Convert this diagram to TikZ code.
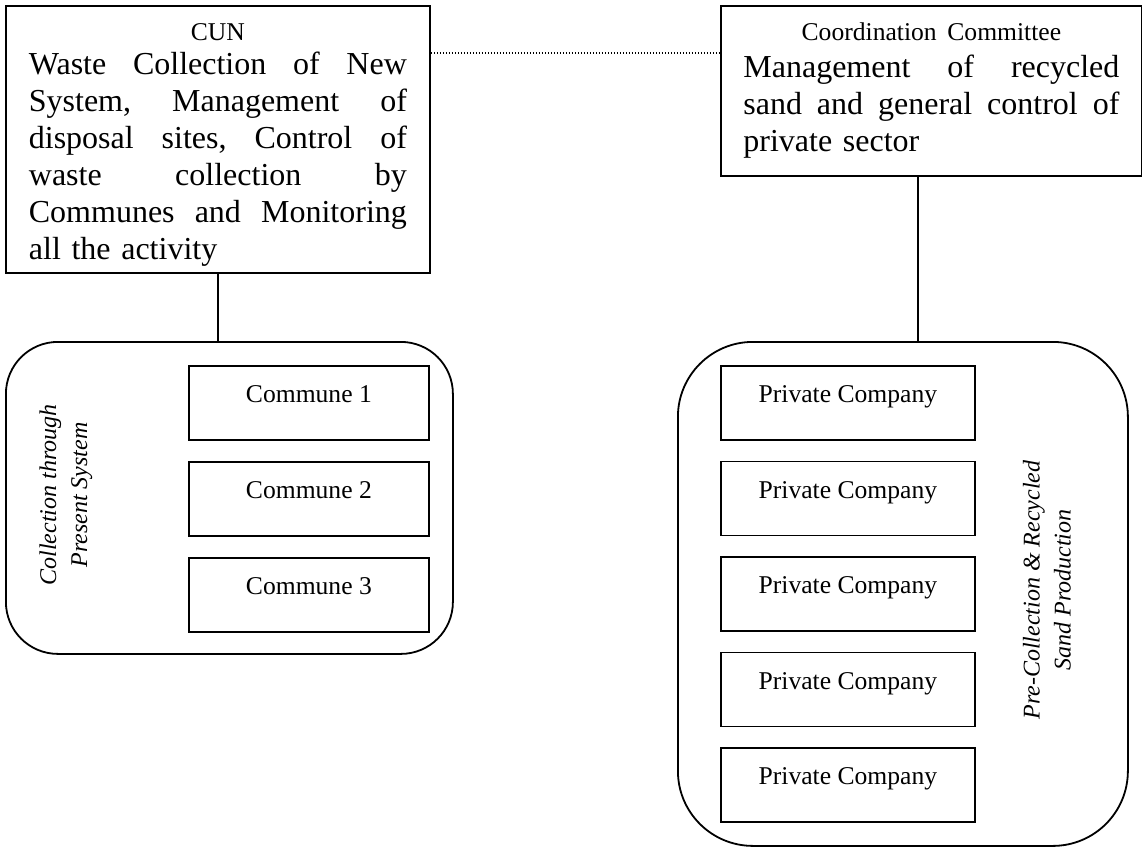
\documentclass[tikz,border=0pt]{standalone}
\usepackage{fontspec}
\setmainfont{Liberation Serif}
\usetikzlibrary{positioning}
\tikzset{
  topbox/.style={rectangle, draw, line width=0.9pt, anchor=north west,
                 align=left, font=\fontsize{16}{18.5}\selectfont},
  unitbox/.style={rectangle, draw, line width=0.9pt, minimum width=120pt,
                  text height=18.5pt, text depth=18.5pt, inner ysep=0pt,
                  font=\fontsize{12.8}{15}\selectfont},
  group/.style={rectangle, draw, line width=0.9pt, anchor=north west},
  sidelabel/.style={rotate=90, align=center, font=\fontsize{12}{15.5}\selectfont\itshape},
  link/.style={line width=0.9pt},
  dotlink/.style={line width=0.6pt, dash pattern=on 0.6pt off 0.9pt},
}
\newcommand{\fillline}[2][189pt]{\leavevmode\hbox to #1{#2}}
\newcommand{\lastline}[2][189pt]{\leavevmode\hbox to #1{#2\hfil}}
\newcommand{\headline}[2][189pt]{\leavevmode\hbox to #1{\hfil\fontsize{12.8}{15}\selectfont #2\hfil}}

\begin{document}
\begin{tikzpicture}[x=0.5pt, y=-0.5pt, node distance=10.1pt]
  \useasboundingbox (0,0) rectangle (1142,847);
  \node[topbox, text width=189pt, minimum width=212pt, minimum height=133.5pt] (cun) at (5,5)
    {\headline{\rule{0pt}{14pt}CUN}\\[-1.75pt]
     \fillline{Waste\hfill Collection\hfill of\hfill New}\\
     \fillline{System,\hfill Management\hfill of}\\
     \fillline{disposal\hfill sites,\hfill Control\hfill of}\\
     \fillline{waste\hfill collection\hfill by}\\
     \fillline{Communes\hfill and\hfill Monitoring}\\
     \lastline{all the activity}};
  \node[topbox, text width=188pt, minimum width=210.5pt, minimum height=85pt] (cc) at (720,5)
    {\headline[188pt]{Coordination Committee}\\
     \fillline[188pt]{Management\hfill of\hfill recycled}\\
     \fillline[188pt]{sand\hfill and\hfill general\hfill control\hfill of}\\
     \lastline[188pt]{private sector}};
  \node[group, minimum width=223.5pt, minimum height=156pt, rounded corners=26pt] (present) at (5,341) {};
  \node[group, minimum width=225pt, minimum height=252pt, rounded corners=37.5pt] (private) at (677,341) {};
  \node[unitbox, anchor=north west] (c1) at (188,365) {Commune 1};
  \node[unitbox, below=of c1] (c2) {Commune 2};
  \node[unitbox, below=of c2] (c3) {Commune 3};
  \node[unitbox, minimum width=127pt, anchor=north west] (p1) at (720,365) {Private Company};
  \node[unitbox, minimum width=127pt, below=9.85pt of p1] (p2) {Private Company};
  \node[unitbox, minimum width=127pt, below=9.85pt of p2] (p3) {Private Company};
  \node[unitbox, minimum width=127pt, below=9.85pt of p3] (p4) {Private Company};
  \node[unitbox, minimum width=127pt, below=9.85pt of p4] (p5) {Private Company};
  \node[sidelabel] (presentlbl) at (66,495) {Collection through\\Present System};
  \node[sidelabel] (privatelbl) at (1047,590) {Pre-Collection \& Recycled\\Sand Production};
  \draw[link] (cun.south) -- (cun.south |- present.north);
  \draw[link] ([xshift=-6.75pt]cc.south) -- ([xshift=-6.75pt]cc.south |- private.north);
  \draw[dotlink] ([yshift=-24pt]cun.north east) -- ([yshift=-24pt]cun.north east -| cc.west);
\end{tikzpicture}
\end{document}
